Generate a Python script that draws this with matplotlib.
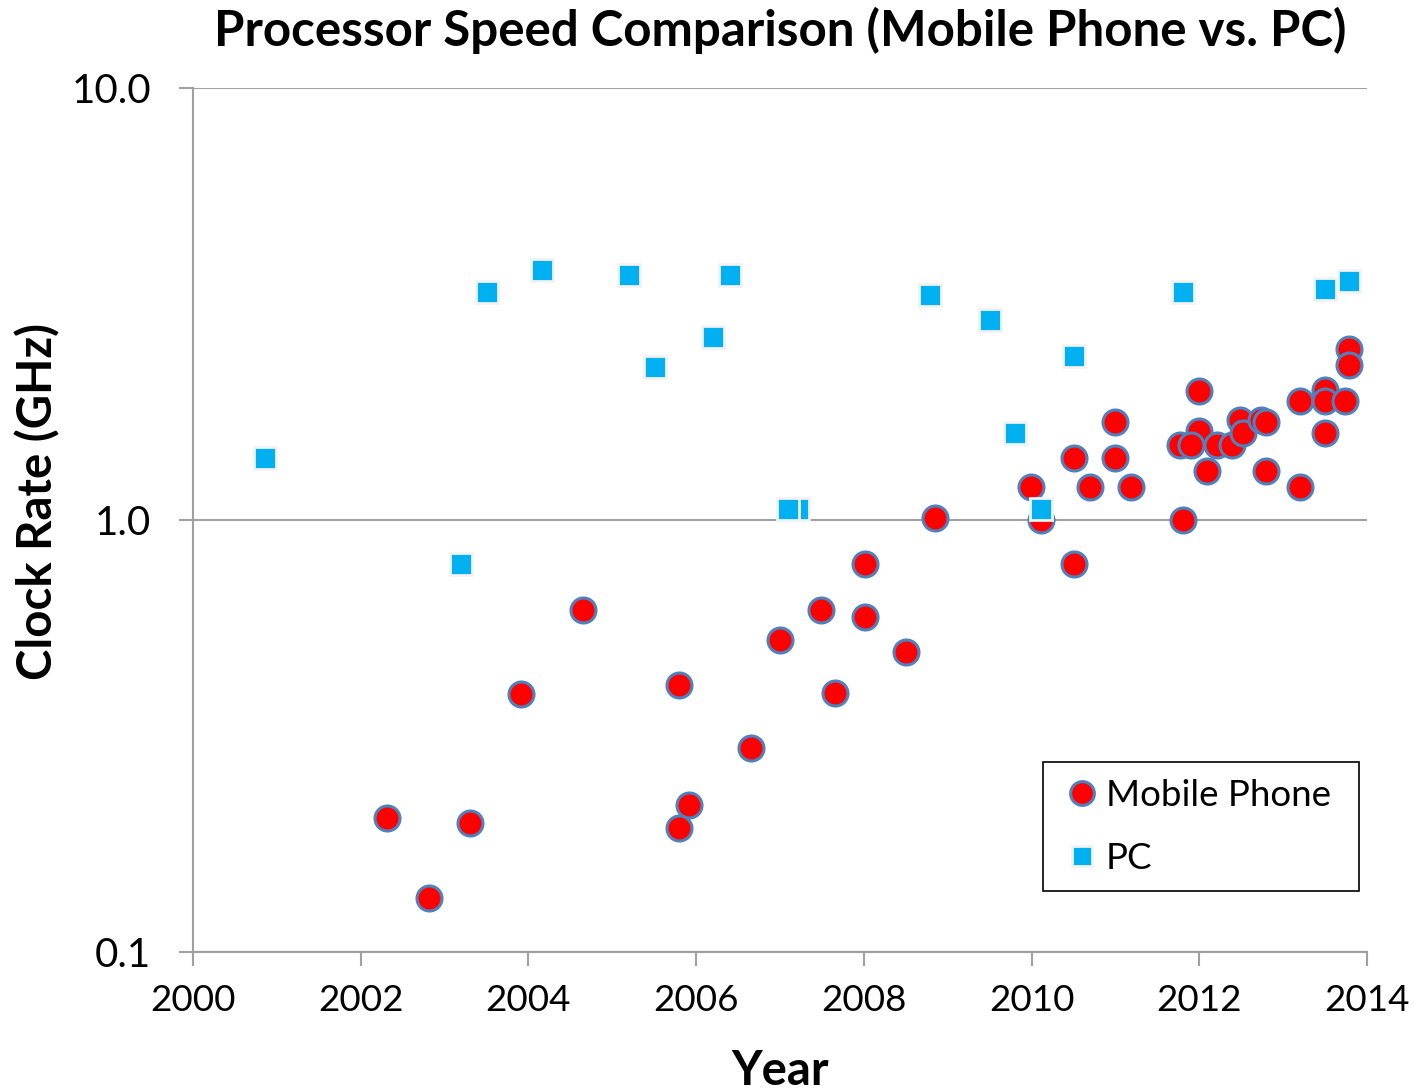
import numpy as np
import matplotlib
matplotlib.use("Agg")
import matplotlib.pyplot as plt
from matplotlib.ticker import FixedLocator, FixedFormatter, NullLocator

plt.rcParams['font.family'] = ['Lato', 'DejaVu Sans']

# Mobile phone processors (year, clock rate in GHz)
mobile_year = [2002.31, 2002.81, 2003.30, 2003.91, 2004.65, 2005.80, 2005.91, 2005.80,
               2006.65, 2007.00, 2007.49, 2007.65, 2008.01, 2008.01, 2008.50, 2008.85,
               2009.99, 2010.11, 2010.51, 2010.51, 2010.70, 2011.00, 2011.00, 2011.19,
               2011.80, 2012.00, 2012.00, 2011.77, 2011.90, 2012.09, 2012.21, 2012.39,
               2012.49, 2012.52, 2012.74, 2012.80, 2012.80, 2013.20, 2013.20, 2013.50,
               2013.50, 2013.50, 2013.74, 2013.79, 2013.79]
mobile_ghz = [0.204, 0.133, 0.199, 0.396, 0.618, 0.414, 0.219, 0.194,
              0.297, 0.527, 0.618, 0.397, 0.791, 0.597, 0.496, 1.01,
              1.19, 1.0, 0.79, 1.39, 1.19, 1.69, 1.39, 1.19,
              1.0, 1.99, 1.61, 1.49, 1.49, 1.30, 1.49, 1.49,
              1.70, 1.59, 1.70, 1.69, 1.30, 1.89, 1.19, 2.00,
              1.89, 1.59, 1.89, 2.49, 2.29]

# PC processors
pc_year = [2000.86, 2003.20, 2003.51, 2004.16, 2005.20, 2005.51, 2006.20, 2006.40,
           2007.21, 2007.10, 2008.79, 2009.50, 2009.80, 2010.11, 2010.51, 2011.80,
           2013.50, 2013.79]
pc_ghz = [1.39, 0.79, 3.37, 3.80, 3.70, 2.26, 2.65, 3.70,
          1.06, 1.06, 3.31, 2.91, 1.59, 1.06, 2.40, 3.37,
          3.42, 3.57]

yticks = [0.1, 1.0, 10.0]
ytick_labels = ['0.1', '1.0', '10.0']
xticks = [2000, 2002, 2004, 2006, 2008, 2010, 2012, 2014]

fig = plt.figure(figsize=(14.14, 10.91), dpi=100)
ax = fig.add_axes([193/1414, 1 - 952/1091, (1367 - 193)/1414, (952 - 88)/1091])

ax.plot(mobile_year, mobile_ghz, 'o', ms=18, mfc='#FF0000', mec='#4F81BD', mew=2.2,
        label='Mobile Phone', zorder=3)
ax.plot(pc_year, pc_ghz, 's', ms=15.5, mfc='#00B0F0', mec='#F2F2F2', mew=2.0,
        label='PC', zorder=4)

ax.set_yscale('log')
ax.set_ylim(0.1, 10)
ax.set_xlim(2000, 2014)
ax.yaxis.set_major_locator(FixedLocator(yticks))
ax.yaxis.set_major_formatter(FixedFormatter(ytick_labels))
ax.yaxis.set_minor_locator(NullLocator())
ax.set_xticks(xticks)
ax.set_xticklabels([str(x) for x in xticks])

ax.grid(axis='y', color='#A0A0A0', lw=1.5)
ax.set_axisbelow(True)
for s in ['top', 'right']:
    ax.spines[s].set_visible(False)
for s in ['left', 'bottom']:
    ax.spines[s].set_color('#A0A0A0')
    ax.spines[s].set_linewidth(1.5)
ax.tick_params(axis='both', direction='out', length=10, width=1.5, color='#A0A0A0')
ax.tick_params(axis='x', labelsize=26.5, pad=13)
ax.tick_params(axis='y', labelsize=29, pad=20)

ax.set_title('Processor Speed Comparison (Mobile Phone vs. PC)', fontsize=35.5,
             fontweight='bold', pad=30)
ax.set_xlabel('Year', fontsize=34, fontweight='bold', labelpad=23)
ax.set_ylabel('Clock Rate (GHz)', fontsize=34, fontweight='bold')
ax.yaxis.set_label_coords((60 - 193) / 1174, (952 - 501) / 864)

leg = ax.legend(loc='upper left',
                bbox_to_anchor=(1043/1414, 1 - 890/1091, 316/1414, 128/1091),
                bbox_transform=fig.transFigure, mode='expand', fontsize=26.5,
                frameon=True, fancybox=False, edgecolor='black', framealpha=1,
                borderaxespad=0, handletextpad=0.05, handlelength=1.2,
                labelspacing=0.82, borderpad=0.45, markerscale=0.95)
leg.get_frame().set_linewidth(1.2)

fig.savefig('out.png', dpi=100)
